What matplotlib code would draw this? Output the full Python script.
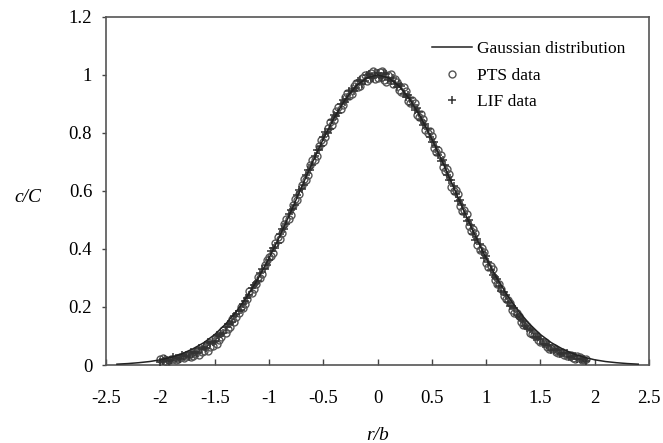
import matplotlib
matplotlib.use("Agg")
import matplotlib.pyplot as plt

plt.rcParams['font.family'] = ['Liberation Serif', 'DejaVu Serif']
plt.rcParams['axes.unicode_minus'] = False

# Gaussian curve (right half, mirrored)
half_x = [0.0, 0.1, 0.2, 0.3, 0.4, 0.5, 0.6, 0.7, 0.8, 0.9, 1.0, 1.1, 1.2,
          1.3, 1.4, 1.5, 1.6, 1.7, 1.8, 1.9, 2.0, 2.1, 2.2, 2.3, 2.4]
half_y = [1.000, 0.990, 0.961, 0.914, 0.852, 0.779, 0.698, 0.613, 0.527, 0.445,
          0.368, 0.298, 0.237, 0.185, 0.141, 0.105, 0.077, 0.056, 0.039, 0.027,
          0.018, 0.012, 0.008, 0.005, 0.003]
gauss_x = [-v for v in half_x[::-1]] + half_x[1:]
gauss_y = half_y[::-1] + half_y[1:]

# two sets of radial positions used by the measurements
even_x = [-2.00, -1.96, -1.92, -1.88, -1.84, -1.80, -1.76, -1.72, -1.68, -1.64,
          -1.60, -1.56, -1.52, -1.48, -1.44, -1.40, -1.36, -1.32, -1.28, -1.24,
          -1.20, -1.16, -1.12, -1.08, -1.04, -1.00, -0.96, -0.92, -0.88, -0.84,
          -0.80, -0.76, -0.72, -0.68, -0.64, -0.60, -0.56, -0.52, -0.48, -0.44,
          -0.40, -0.36, -0.32, -0.28, -0.24, -0.20, -0.16, -0.12, -0.08, -0.04,
          0.00, 0.04, 0.08, 0.12, 0.16, 0.20, 0.24, 0.28, 0.32, 0.36,
          0.40, 0.44, 0.48, 0.52, 0.56, 0.60, 0.64, 0.68, 0.72, 0.76,
          0.80, 0.84, 0.88, 0.92, 0.96, 1.00, 1.04, 1.08, 1.12, 1.16,
          1.20, 1.24, 1.28, 1.32, 1.36, 1.40, 1.44, 1.48, 1.52, 1.56,
          1.60, 1.64, 1.68, 1.72, 1.76, 1.80, 1.84, 1.88, 1.92]
odd_x = [-1.98, -1.94, -1.90, -1.86, -1.82, -1.78, -1.74, -1.70, -1.66, -1.62,
         -1.58, -1.54, -1.50, -1.46, -1.42, -1.38, -1.34, -1.30, -1.26, -1.22,
         -1.18, -1.14, -1.10, -1.06, -1.02, -0.98, -0.94, -0.90, -0.86, -0.82,
         -0.78, -0.74, -0.70, -0.66, -0.62, -0.58, -0.54, -0.50, -0.46, -0.42,
         -0.38, -0.34, -0.30, -0.26, -0.22, -0.18, -0.14, -0.10, -0.06, -0.02,
         0.02, 0.06, 0.10, 0.14, 0.18, 0.22, 0.26, 0.30, 0.34, 0.38,
         0.42, 0.46, 0.50, 0.54, 0.58, 0.62, 0.66, 0.70, 0.74, 0.78,
         0.82, 0.86, 0.90, 0.94, 0.98, 1.02, 1.06, 1.10, 1.14, 1.18,
         1.22, 1.26, 1.30, 1.34, 1.38, 1.42, 1.46, 1.50, 1.54, 1.58,
         1.62, 1.66, 1.70, 1.74, 1.78, 1.82, 1.86, 1.90]

# PTS data
pts_y_even = [0.020, 0.015, 0.018, 0.022, 0.020, 0.026, 0.030, 0.028, 0.038, 0.035,
              0.050, 0.048, 0.066, 0.072, 0.098, 0.110, 0.132, 0.150, 0.178, 0.196,
              0.226, 0.248, 0.279, 0.300, 0.345, 0.372, 0.385, 0.440, 0.455, 0.503,
              0.518, 0.572, 0.590, 0.641, 0.655, 0.706, 0.722, 0.775, 0.786, 0.836,
              0.843, 0.890, 0.895, 0.938, 0.935, 0.972, 0.962, 0.998, 0.985, 1.012,
              0.990, 1.015, 0.975, 1.002, 0.985, 0.948, 0.958, 0.910, 0.915, 0.862,
              0.866, 0.810, 0.805, 0.748, 0.742, 0.684, 0.676, 0.615, 0.602, 0.548,
              0.535, 0.478, 0.468, 0.412, 0.402, 0.352, 0.340, 0.292, 0.280, 0.238,
              0.225, 0.190, 0.180, 0.148, 0.140, 0.112, 0.105, 0.085, 0.080, 0.062,
              0.060, 0.045, 0.046, 0.034, 0.036, 0.025, 0.030, 0.018, 0.020]
pts_y_odd = [0.025, 0.012, 0.022, 0.018, 0.028, 0.025, 0.036, 0.032, 0.050, 0.045,
             0.066, 0.062, 0.088, 0.085, 0.120, 0.125, 0.160, 0.165, 0.200, 0.212,
             0.255, 0.262, 0.305, 0.315, 0.362, 0.375, 0.422, 0.436, 0.486, 0.502,
             0.553, 0.570, 0.622, 0.638, 0.690, 0.705, 0.756, 0.770, 0.818, 0.828,
             0.874, 0.882, 0.922, 0.926, 0.962, 0.958, 0.990, 0.978, 1.005, 0.985,
             1.010, 0.984, 1.000, 0.970, 0.976, 0.940, 0.945, 0.902, 0.902, 0.855,
             0.848, 0.798, 0.790, 0.735, 0.725, 0.670, 0.658, 0.600, 0.590, 0.532,
             0.520, 0.462, 0.455, 0.398, 0.390, 0.338, 0.330, 0.280, 0.262, 0.228,
             0.215, 0.180, 0.170, 0.138, 0.135, 0.108, 0.102, 0.078, 0.078, 0.055,
             0.058, 0.042, 0.045, 0.030, 0.033, 0.022, 0.026, 0.016]

# LIF data
lif_y_odd = [0.015, 0.018, 0.016, 0.024, 0.022, 0.030, 0.028, 0.040, 0.042, 0.055,
             0.058, 0.075, 0.082, 0.100, 0.112, 0.140, 0.150, 0.176, 0.190, 0.222,
             0.240, 0.276, 0.290, 0.332, 0.345, 0.392, 0.405, 0.452, 0.470, 0.520,
             0.538, 0.585, 0.605, 0.656, 0.672, 0.722, 0.740, 0.786, 0.800, 0.846,
             0.858, 0.900, 0.906, 0.945, 0.946, 0.978, 0.970, 1.000, 0.988, 1.008,
             0.994, 1.005, 0.982, 0.990, 0.958, 0.962, 0.925, 0.920, 0.880, 0.872,
             0.828, 0.815, 0.768, 0.752, 0.702, 0.688, 0.636, 0.618, 0.565, 0.550,
             0.498, 0.482, 0.432, 0.418, 0.370, 0.355, 0.310, 0.295, 0.255, 0.242,
             0.205, 0.195, 0.165, 0.152, 0.128, 0.120, 0.098, 0.090, 0.072, 0.068,
             0.052, 0.052, 0.040, 0.040, 0.028, 0.030, 0.020, 0.022]
lif_y_even = [0.012, 0.020, 0.014, 0.026, 0.025, 0.034, 0.036, 0.045, 0.046, 0.058,
              0.062, 0.078, 0.080, 0.102, 0.108, 0.132, 0.142, 0.168, 0.186, 0.210,
              0.230, 0.265, 0.282, 0.318, 0.332, 0.362, 0.405, 0.420, 0.468, 0.486,
              0.535, 0.552, 0.604, 0.622, 0.672, 0.690, 0.740, 0.755, 0.802, 0.815,
              0.860, 0.870, 0.912, 0.918, 0.952, 0.955, 0.984, 0.978, 1.004, 0.990,
              1.006, 0.990, 1.002, 0.978, 0.970, 0.968, 0.935, 0.932, 0.895, 0.886,
              0.845, 0.830, 0.786, 0.770, 0.725, 0.705, 0.656, 0.636, 0.588, 0.568,
              0.520, 0.500, 0.452, 0.435, 0.388, 0.375, 0.328, 0.305, 0.272, 0.250,
              0.218, 0.202, 0.172, 0.160, 0.135, 0.125, 0.098, 0.095, 0.072, 0.070,
              0.052, 0.054, 0.038, 0.040, 0.028, 0.030, 0.020, 0.022, 0.015]

pts_x = even_x + odd_x
pts_y = pts_y_even + pts_y_odd
lif_x = odd_x + even_x
lif_y = lif_y_odd + lif_y_even

xticks = [-2.5, -2, -1.5, -1, -0.5, 0, 0.5, 1, 1.5, 2, 2.5]
xtick_labels = ['-2.5', '-2', '-1.5', '-1', '-0.5', '0', '0.5', '1', '1.5', '2', '2.5']
yticks = [0, 0.2, 0.4, 0.6, 0.8, 1.0, 1.2]
ytick_labels = ['0', '0.2', '0.4', '0.6', '0.8', '1', '1.2']

fig = plt.figure(figsize=(6.63, 4.43), dpi=100)
ax = fig.add_axes([0.160, 0.176, 0.819, 0.786])

ax.plot(pts_x, pts_y, linestyle='none', marker='o', markersize=5,
        markerfacecolor='none', markeredgecolor='#555555', markeredgewidth=1.0,
        label='PTS data', zorder=2)
ax.plot(lif_x, lif_y, linestyle='none', marker='+', markersize=6,
        color='#333333', markeredgewidth=1.1, label='LIF data', zorder=3)
ax.plot(gauss_x, gauss_y, color='#222222', linewidth=1.1,
        label='Gaussian distribution', zorder=4)

ax.set_xlim(-2.5, 2.5)
ax.set_ylim(0, 1.2)
ax.set_xticks(xticks)
ax.set_xticklabels(xtick_labels)
ax.set_yticks(yticks)
ax.set_yticklabels(ytick_labels)

ax.tick_params(axis='x', direction='in', length=4, width=1, color='#444444',
               pad=18, labelsize=13.5)
ax.tick_params(axis='y', direction='out', length=3, width=1, color='#444444',
               pad=7, labelsize=13.5)
for s in ax.spines.values():
    s.set_color('#555555')
    s.set_linewidth(1.2)

handles, labels = ax.get_legend_handles_labels()
order = [2, 0, 1]
ax.legend([handles[i] for i in order], [labels[i] for i in order],
          loc='upper left', bbox_to_anchor=(0.6, 0.93), frameon=False,
          numpoints=1, handlelength=2.3, handletextpad=0.3,
          labelspacing=0.6, borderpad=0, borderaxespad=0, fontsize=12.5)

fig.text(28 / 663, 1 - 197 / 443, 'c/C', style='italic', fontsize=14,
         ha='center', va='center')
fig.text(378 / 663, 1 - 436 / 443, 'r/b', style='italic', fontsize=14,
         ha='center', va='center')

fig.savefig('out.png', dpi=100)
